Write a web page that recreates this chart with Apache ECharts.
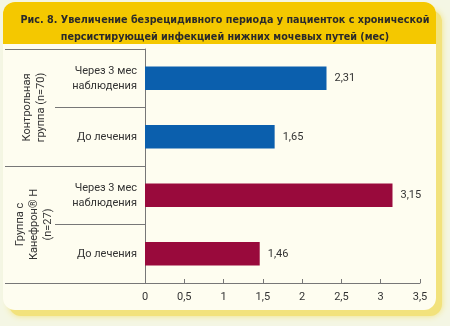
<!DOCTYPE html>
<html><head><meta charset="utf-8">
<script src="https://cdn.jsdelivr.net/npm/echarts@6/dist/echarts.min.js"></script>
<style>html,body{margin:0;padding:0;background:#f4f6e4;}#c{width:450px;height:326px;}</style>
</head><body><div id="c"></div>
<script>
const categories = ['Через 3 мес\nнаблюдения', 'До лечения', 'Через 3 мес\nнаблюдения', 'До лечения'];
const groups = ['Контрольная\nгруппа (n=70)', 'Группа с\nКанефрон® Н\n(n=27)'];
const values = [2.31, 1.65, 3.15, 1.46];
const groupOfCategory = [0, 0, 1, 1];
const groupColors = ['#0b5fad', '#990a3c'];
const xTicks = [0, 0.5, 1, 1.5, 2, 2.5, 3, 3.5];

const chart = echarts.init(document.getElementById('c'), null, {renderer: 'canvas'});
const font = 'Roboto, "Noto Sans", sans-serif';
chart.setOption({
  animation: false,
  backgroundColor: '#f4f6e4',
  graphic: [
    {type: 'rect', z: -10, shape: {x: 9, y: 10, width: 433, height: 306, r: 12},
     style: {fill: '#f2e27c', shadowBlur: 6, shadowColor: '#f2e27c'}},
    {type: 'rect', z: -9, shape: {x: 3, y: 2, width: 433, height: 308, r: 12},
     style: {fill: '#fefdf0'}},
    {type: 'rect', z: -8, shape: {x: 3, y: 2, width: 433, height: 42, r: [12, 12, 0, 0]},
     style: {fill: '#f4c800'}}
  ],
  title: {
    text: 'Рис. 8. Увеличение безрецидивного периода у пациенток с хронической\nперсистирующей инфекцией нижних мочевых путей (мес)',
    left: 220, top: 7, textAlign: 'center',
    textStyle: {fontFamily: '"DejaVu Sans Condensed", "DejaVu Sans", sans-serif', fontWeight: 'bold', fontSize: 10.7, lineHeight: 17, color: '#2a2a2a'}
  },
  grid: {left: 145, right: 30, top: 49, bottom: 43},
  xAxis: {
    type: 'value', min: 0, max: 3.5, interval: 0.5,
    axisLine: {show: true, lineStyle: {color: '#777', width: 1}},
    axisTick: {show: true, inside: true, length: 4, lineStyle: {color: '#777'}},
    splitLine: {show: false},
    axisLabel: {fontFamily: font, fontSize: 11, color: '#333', margin: 9,
      formatter: v => String(v).replace('.', ',')}
  },
  yAxis: [
    {type: 'category', data: categories, inverse: true, position: 'left',
     axisLine: {show: true, lineStyle: {color: '#777'}},
     axisTick: {show: true, length: 90, lineStyle: {color: '#777'}},
     axisLabel: {fontFamily: font, fontSize: 11, color: '#333', lineHeight: 15, margin: 8, align: 'right'}},
    {type: 'category', data: groups, inverse: true, position: 'left',
     axisLine: {show: false},
     axisTick: {show: true, length: 140, lineStyle: {color: '#777'}},
     axisLabel: {fontFamily: font, fontSize: 11, color: '#333', lineHeight: 14, rotate: 90,
       verticalAlign: 'middle', align: 'center', margin: 111}}
  ],
  series: [{
    type: 'bar', yAxisIndex: 0, barWidth: '40%',
    data: values.map((v, i) => ({value: v, itemStyle: {color: groupColors[groupOfCategory[i]]}})),
    label: {show: true, position: 'right', distance: 8, fontFamily: font, fontSize: 11, color: '#333',
      formatter: p => String(p.value).replace('.', ',')}
  }]
});
</script></body></html>
